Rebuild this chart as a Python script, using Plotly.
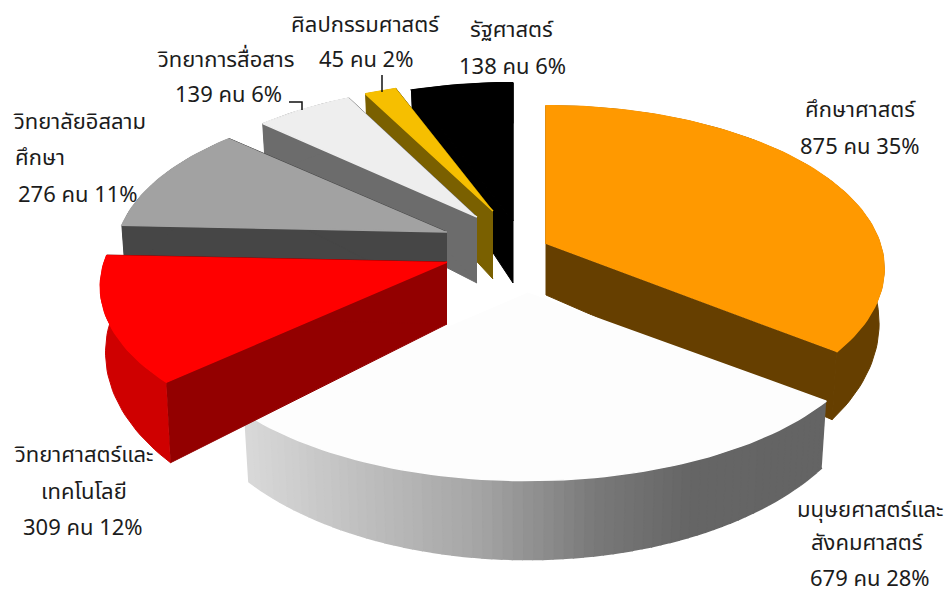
import numpy as np
import plotly.graph_objects as go

# ---- chart data ----
categories = ["ศึกษาศาสตร์", "มนุษยศาสตร์และสังคมศาสตร์", "วิทยาศาสตร์และเทคโนโลยี",
              "วิทยาลัยอิสลามศึกษา", "วิทยาการสื่อสาร", "ศิลปกรรมศาสตร์", "รัฐศาสตร์"]
values = [875, 679, 309, 276, 139, 45, 138]

# ---- styling: exploded position of each slice's tip, thickness, colours ----
tip_x = [546, 527, 447, 447, 477, 493, 513]
tip_y = [244, 293, 262, 232, 217, 211, 221]
x_scale = [0.995, 1.025, 1.02, 0.975, 0.96, 0.955, 1.0]
y_scale = [1.0, 1.0, 1.0, 0.95, 0.95, 0.935, 1.0]
thick = [51, 50, 62, 68, 66, 68, 62]
top_col = ["#ff9900", "#fdfdfd", "#ff0000", "#a2a2a2", "#eeeeee", "#f6bf00", "#000000"]
face_col = ["#663f00", "#777777", "#930000", "#464646", "#6c6c6c", "#7a6000", "#000000"]
rim_col = ["#663f00", None, "#cf0000", "#464646", "#6c6c6c", "#7a6000", "#000000"]
draw_order = [6, 5, 4, 3, 0, 1, 2]

R, Q, P = 336.0, 0.474, 0.151
RB, QB = 0.985 * 336.0, 0.555

edges = np.concatenate([[0], np.cumsum(values)]) / sum(values) * 2 * np.pi


def top_pt(i, a):
    X, Y = np.sin(a), np.cos(a)
    s = 1 / (1 + P * Y)
    return tip_x[i] + R * x_scale[i] * X * s, tip_y[i] - R * Q * y_scale[i] * Y * s


def bot_pt(i, a):
    X, Y = np.sin(a), np.cos(a)
    s = 1 / (1 + P * Y)
    return tip_x[i] + RB * x_scale[i] * X * s, tip_y[i] + thick[i] - RB * QB * y_scale[i] * Y * s


def white_rim(x):
    stops_x = [250, 480, 600, 690, 830]
    stops_v = [216, 165, 120, 102, 100]
    v = int(np.interp(x, stops_x, stops_v))
    return f"rgb({v},{v},{v})"


fig = go.Figure()


def poly(xs, ys, color, name, width=1.0):
    fig.add_trace(go.Scatter(x=xs, y=ys, mode="lines", fill="toself", fillcolor=color,
                             line=dict(color=color, width=width), hoverinfo="skip",
                             showlegend=False, name=name))


for i in draw_order:
    a0, a1 = edges[i], edges[i + 1]
    angs = np.linspace(a0, a1, max(4, int((a1 - a0) * 40)))
    tops = [top_pt(i, a) for a in angs]
    bots = [bot_pt(i, a) for a in angs]
    # radial side faces (only on slices where they can show)
    if rim_col[i] is not None:
        for a in (a0, a1):
            t, b = top_pt(i, a), bot_pt(i, a)
            poly([tip_x[i], t[0], b[0], tip_x[i]], [tip_y[i], t[1], b[1], tip_y[i] + thick[i]],
                 face_col[i], categories[i])
        # outer wall, a single colour
        poly([p[0] for p in tops] + [p[0] for p in bots[::-1]],
             [p[1] for p in tops] + [p[1] for p in bots[::-1]], rim_col[i], categories[i])
    else:
        # outer wall with a left-to-right grey gradient
        for k in range(len(angs) - 1):
            mx = (tops[k][0] + tops[k + 1][0]) / 2
            c = white_rim(mx)
            poly([tops[k][0], tops[k + 1][0], bots[k + 1][0], bots[k][0]],
                 [tops[k][1], tops[k + 1][1], bots[k + 1][1], bots[k][1]], c, categories[i], 2.0)
    # top surface
    poly([tip_x[i]] + [p[0] for p in tops], [tip_y[i]] + [p[1] for p in tops],
         top_col[i], categories[i], 1.5)

labels = [
    ("ศึกษาศาสตร์", 860, 110), ("875 คน 35%", 860, 147),
    ("มนุษยศาสตร์และ", 870, 510), ("สังคมศาสตร์", 867, 543), ("679 คน 28%", 870, 579),
    ("วิทยาศาสตร์และ", 84, 455), ("เทคโนโลยี", 84, 492), ("309 คน 12%", 83, 528),
    ("วิทยาลัยอิสลาม", 79, 122), ("ศึกษา", 40, 158), ("276 คน 11%", 78, 195),
    ("วิทยาการสื่อสาร", 226, 60), ("139 คน 6%", 228, 95),
    ("ศิลปกรรมศาสตร์", 365, 25), ("45 คน 2%", 366, 60),
    ("รัฐศาสตร์", 512, 30), ("138 คน 6%", 512, 67),
]
annotations = [dict(x=x, y=y, text=t, showarrow=False, xanchor="center", yanchor="middle",
                    font=dict(family="Noto Sans Thai, Loma, Tahoma, Noto Sans, DejaVu Sans",
                              size=22, color="#1c1c1c"))
               for t, x, y in labels]

leaders = [
    dict(type="path", path="M 289 102 L 302 102 L 302 110", line=dict(color="#111111", width=1.5)),
    dict(type="line", x0=382, y0=75, x1=382, y1=92, line=dict(color="#111111", width=1.5)),
]

fig.update_layout(
    width=949, height=595, autosize=False,
    margin=dict(l=0, r=0, t=0, b=0),
    paper_bgcolor="white", plot_bgcolor="white", showlegend=False,
    xaxis=dict(range=[0, 949], visible=False, fixedrange=True),
    yaxis=dict(range=[595, 0], visible=False, fixedrange=True),
    annotations=annotations, shapes=leaders,
)
fig.write_html("out.html", config=dict(displayModeBar=False),
               post_script="document.body.style.margin='0';document.body.style.overflow='hidden';")
